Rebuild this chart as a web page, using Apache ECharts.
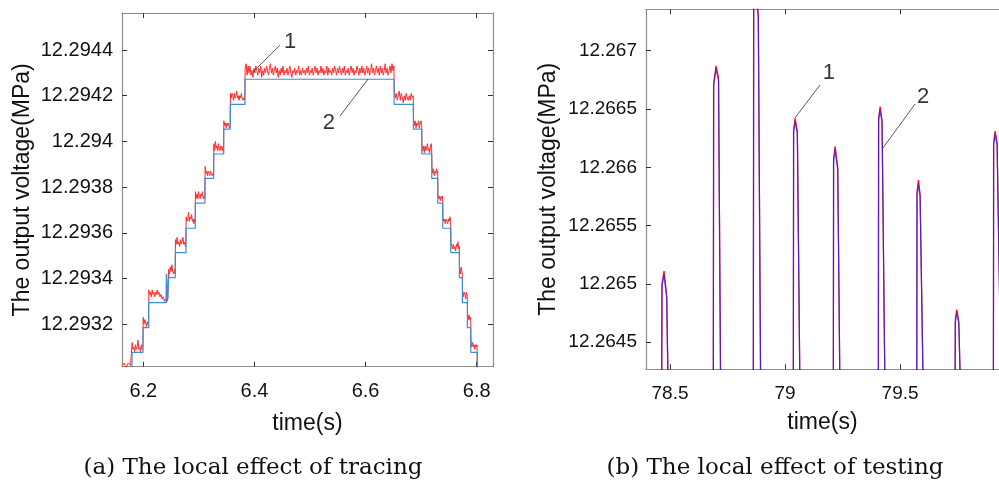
<!DOCTYPE html>
<html><head><meta charset="utf-8">
<script src="https://cdn.jsdelivr.net/npm/echarts@6/dist/echarts.min.js"></script>
<style>html,body{margin:0;padding:0;background:#fff}#c{width:999px;height:486px}</style>
</head><body><div id="c"></div>
<script>
// ---------- (a) tracing: reference staircase (curve 2) ----------
const traceStepTime = [6.1617, 6.1797, 6.1995, 6.2097, 6.2414, 6.2435, 6.2457, 6.2576, 6.2769, 6.2936, 6.3110, 6.3267, 6.3447, 6.3566, 6.3830,
  6.6513, 6.6860, 6.7011, 6.7191, 6.7299, 6.7389, 6.7533, 6.7688, 6.7742, 6.7832, 6.7893, 6.8010, 6.8293];
const traceStepLevel = [12.29295, 12.293077, 12.293185, 12.293294, 12.29342, 12.29330, 12.293404, 12.293513, 12.29362, 12.29373, 12.293838, 12.293945, 12.294054, 12.294162, 12.294272,
  12.294162, 12.294054, 12.293945, 12.293838, 12.29373, 12.29362, 12.293513, 12.293404, 12.293294, 12.293185, 12.293077, 12.29295, 12.29295];
// ---------- (a) tracing: measured output (curve 1), [time, value] ----------
const traceOutput = [
[6.1617,12.29302],[6.1650,12.29303],[6.1690,12.29301],[6.1730,12.29303],[6.1770,12.29302],[6.1795,12.29302],
[6.1800,12.29312],[6.1815,12.29309],[6.1830,12.29310],[6.1845,12.29308],[6.1860,12.29311],[6.1875,12.29309],[6.1890,12.29310],[6.1905,12.29313],[6.1920,12.29309],[6.1935,12.29310],[6.1950,12.29308],[6.1965,12.29311],[6.1980,12.29309],[6.1993,12.29310],
[6.1998,12.29323],[6.2012,12.29320],[6.2027,12.29322],[6.2042,12.29321],[6.2057,12.29319],[6.2072,12.29321],[6.2087,12.29320],[6.2095,12.29319],
[6.2100,12.29335],[6.2115,12.29333],[6.2130,12.29334],[6.2145,12.29332],[6.2160,12.29335],[6.2175,12.29333],[6.2190,12.29334],[6.2205,12.29332],[6.2220,12.29334],[6.2235,12.29333],[6.2250,12.29335],[6.2265,12.29333],[6.2280,12.29334],[6.2300,12.29332],[6.2320,12.29333],[6.2340,12.29331],[6.2360,12.29332],[6.2380,12.29330],[6.2400,12.29331],[6.2412,12.29330],
[6.2420,12.29342],[6.2440,12.29331],[6.2458,12.29344],
[6.2470,12.29342],[6.2485,12.29345],[6.2500,12.29343],[6.2515,12.29346],[6.2530,12.29343],[6.2545,12.29342],[6.2560,12.29344],[6.2574,12.29342],
[6.2579,12.29357],[6.2593,12.29355],[6.2608,12.29358],[6.2623,12.29355],[6.2638,12.29356],[6.2653,12.29354],[6.2668,12.29357],[6.2683,12.29355],[6.2698,12.29356],[6.2713,12.29358],[6.2728,12.29355],[6.2743,12.29356],[6.2758,12.29354],[6.2767,12.29355],
[6.2772,12.29367],[6.2786,12.29365],[6.2800,12.29366],[6.2814,12.29369],[6.2828,12.29365],[6.2842,12.29367],[6.2856,12.29366],[6.2870,12.29368],[6.2884,12.29365],[6.2898,12.29366],[6.2912,12.29364],[6.2926,12.29366],[6.2934,12.29365],
[6.2939,12.29378],[6.2953,12.29375],[6.2967,12.29377],[6.2981,12.29375],[6.2995,12.29378],[6.3009,12.29376],[6.3023,12.29375],[6.3037,12.29377],[6.3051,12.29376],[6.3065,12.29378],[6.3079,12.29375],[6.3093,12.29376],[6.3107,12.29375],
[6.3113,12.29389],[6.3127,12.29386],[6.3141,12.29387],[6.3155,12.29385],[6.3169,12.29387],[6.3183,12.29386],[6.3197,12.29385],[6.3211,12.29387],[6.3225,12.29386],[6.3239,12.29385],[6.3253,12.29386],[6.3265,12.29385],
[6.3270,12.29399],[6.3284,12.29396],[6.3298,12.29400],[6.3312,12.29397],[6.3326,12.29398],[6.3340,12.29396],[6.3354,12.29399],[6.3368,12.29397],[6.3382,12.29396],[6.3396,12.29398],[6.3410,12.29397],[6.3424,12.29396],[6.3438,12.29398],[6.3445,12.29396],
[6.3450,12.29409],[6.3464,12.29407],[6.3478,12.29408],[6.3492,12.29406],[6.3506,12.29408],[6.3520,12.29407],[6.3534,12.29408],[6.3548,12.29406],[6.3564,12.29407],
[6.3569,12.29421],[6.3583,12.29419],[6.3597,12.29421],[6.3611,12.29420],[6.3625,12.29418],[6.3639,12.29421],[6.3653,12.29419],[6.3667,12.29420],[6.3681,12.29422],[6.3695,12.29419],[6.3709,12.29420],[6.3723,12.29418],[6.3737,12.29420],[6.3751,12.29419],[6.3765,12.29421],[6.3779,12.29419],[6.3793,12.29418],[6.3807,12.29419],[6.3821,12.29418],[6.3828,12.29419],
[6.3833,12.29432],[6.3850,12.29434],[6.3868,12.29429],[6.3885,12.29433],[6.3903,12.29430],[6.3920,12.29433],[6.3938,12.29429],[6.3955,12.29431],[6.3973,12.29428],[6.3990,12.29432],
[6.4008,12.29430],[6.4025,12.29433],[6.4043,12.29431],[6.4060,12.29429],[6.4078,12.29432],[6.4095,12.29430],[6.4113,12.29433],[6.4130,12.29428],[6.4148,12.29431],[6.4165,12.29429],
[6.4183,12.29432],[6.4200,12.29430],[6.4218,12.29433],[6.4235,12.29431],[6.4253,12.29429],[6.4270,12.29432],[6.4288,12.29434],[6.4305,12.29430],[6.4323,12.29432],[6.4340,12.29429],
[6.4358,12.29431],[6.4375,12.29433],[6.4393,12.29430],[6.4410,12.29432],[6.4428,12.29428],[6.4445,12.29431],[6.4463,12.29429],[6.4480,12.29432],[6.4498,12.29430],[6.4515,12.29433],
[6.4533,12.29429],[6.4550,12.29431],[6.4568,12.29430],[6.4585,12.29432],[6.4603,12.29429],[6.4620,12.29431],[6.4638,12.29433],[6.4655,12.29430],[6.4673,12.29428],[6.4690,12.29431],
[6.4708,12.29430],[6.4725,12.29432],[6.4743,12.29429],[6.4760,12.29431],[6.4778,12.29430],[6.4795,12.29433],[6.4813,12.29429],[6.4830,12.29431],[6.4848,12.29429],[6.4865,12.29432],
[6.4883,12.29430],[6.4900,12.29431],[6.4918,12.29429],[6.4935,12.29432],[6.4953,12.29430],[6.4970,12.29433],[6.4988,12.29429],[6.5005,12.29431],[6.5023,12.29430],[6.5040,12.29432],
[6.5058,12.29429],[6.5075,12.29431],[6.5093,12.29433],[6.5110,12.29430],[6.5128,12.29432],[6.5145,12.29429],[6.5163,12.29431],[6.5180,12.29430],[6.5198,12.29433],[6.5215,12.29430],
[6.5233,12.29432],[6.5250,12.29429],[6.5268,12.29431],[6.5285,12.29430],[6.5303,12.29433],[6.5320,12.29429],[6.5338,12.29432],[6.5355,12.29430],[6.5373,12.29431],[6.5390,12.29429],
[6.5408,12.29432],[6.5425,12.29430],[6.5443,12.29433],[6.5460,12.29431],[6.5478,12.29429],[6.5495,12.29432],[6.5513,12.29430],[6.5530,12.29433],[6.5548,12.29431],[6.5565,12.29429],
[6.5583,12.29432],[6.5600,12.29430],[6.5618,12.29433],[6.5635,12.29429],[6.5653,12.29431],[6.5670,12.29430],[6.5688,12.29432],[6.5705,12.29429],[6.5723,12.29431],[6.5740,12.29433],
[6.5758,12.29430],[6.5775,12.29432],[6.5793,12.29429],[6.5810,12.29431],[6.5828,12.29430],[6.5845,12.29433],[6.5863,12.29431],[6.5880,12.29429],[6.5898,12.29432],[6.5915,12.29430],
[6.5933,12.29433],[6.5950,12.29430],[6.5968,12.29432],[6.5985,12.29429],[6.6003,12.29431],[6.6020,12.29433],[6.6038,12.29430],[6.6055,12.29432],[6.6073,12.29429],[6.6090,12.29431],
[6.6108,12.29434],[6.6125,12.29430],[6.6143,12.29432],[6.6160,12.29429],[6.6178,12.29431],[6.6195,12.29433],[6.6213,12.29430],[6.6230,12.29432],[6.6248,12.29429],[6.6265,12.29433],
[6.6283,12.29430],[6.6300,12.29432],[6.6318,12.29429],[6.6335,12.29431],[6.6353,12.29434],[6.6370,12.29430],[6.6388,12.29432],[6.6405,12.29429],[6.6423,12.29431],[6.6440,12.29433],
[6.6458,12.29430],[6.6475,12.29434],[6.6493,12.29431],[6.6510,12.29433],
[6.6516,12.29422],[6.6534,12.29419],[6.6552,12.29421],[6.6570,12.29418],[6.6588,12.29420],[6.6606,12.29422],[6.6624,12.29418],[6.6642,12.29421],[6.6660,12.29419],[6.6678,12.29417],[6.6696,12.29420],[6.6714,12.29418],[6.6732,12.29421],[6.6750,12.29419],[6.6768,12.29418],[6.6786,12.29420],[6.6804,12.29418],[6.6822,12.29421],[6.6840,12.29419],[6.6857,12.29420],
[6.6863,12.29410],[6.6878,12.29407],[6.6893,12.29409],[6.6908,12.29406],[6.6923,12.29408],[6.6938,12.29407],[6.6953,12.29409],[6.6968,12.29406],[6.6983,12.29408],[6.6998,12.29409],[6.7009,12.29407],
[6.7014,12.29399],[6.7028,12.29396],[6.7042,12.29398],[6.7056,12.29395],[6.7070,12.29398],[6.7084,12.29396],[6.7098,12.29397],[6.7112,12.29399],[6.7126,12.29396],[6.7140,12.29397],[6.7154,12.29395],[6.7168,12.29398],[6.7182,12.29399],[6.7189,12.29397],
[6.7194,12.29389],[6.7208,12.29386],[6.7222,12.29388],[6.7236,12.29385],[6.7250,12.29387],[6.7264,12.29386],[6.7278,12.29388],[6.7292,12.29386],[6.7297,12.29387],
[6.7302,12.29377],[6.7316,12.29375],[6.7330,12.29376],[6.7344,12.29374],[6.7358,12.29376],[6.7372,12.29375],[6.7386,12.29376],
[6.7392,12.29367],[6.7406,12.29365],[6.7420,12.29366],[6.7434,12.29364],[6.7448,12.29366],[6.7462,12.29365],[6.7476,12.29364],[6.7490,12.29366],[6.7504,12.29365],[6.7518,12.29367],[6.7531,12.29365],
[6.7536,12.29356],[6.7550,12.29354],[6.7564,12.29353],[6.7578,12.29355],[6.7592,12.29353],[6.7606,12.29354],[6.7620,12.29352],[6.7634,12.29355],[6.7648,12.29354],[6.7662,12.29356],[6.7676,12.29353],[6.7686,12.29354],
[6.7691,12.29344],[6.7705,12.29342],[6.7719,12.29345],[6.7733,12.29343],[6.7740,12.29342],
[6.7745,12.29335],[6.7759,12.29332],[6.7773,12.29334],[6.7787,12.29333],[6.7801,12.29331],[6.7815,12.29334],[6.7830,12.29332],
[6.7835,12.29325],[6.7849,12.29322],[6.7863,12.29324],[6.7877,12.29322],[6.7891,12.29323],
[6.7896,12.29313],[6.7910,12.29310],[6.7924,12.29312],[6.7938,12.29310],[6.7952,12.29311],[6.7966,12.29309],[6.7980,12.29311],[6.7994,12.29310],[6.8005,12.29311],
[6.8015,12.29295],[6.8293,12.29295]
];
const traceXTicks = [6.2, 6.4, 6.6, 6.8];
const traceYTicks = [12.2932, 12.2934, 12.2936, 12.2938, 12.294, 12.2942, 12.2944];
const traceYTickLabels = ['12.2932', '12.2934', '12.2936', '12.2938', '12.294', '12.2942', '12.2944'];

// ---------- (b) testing: pulses, [time, value] ----------
const testReference = [
[78.3957,12.2640],[78.4636,12.2640],[78.4650,12.26498],[78.4739,12.26508],[78.4857,12.26488],[78.4926,12.2640],
[78.6880,12.2640],[78.6895,12.26670],[78.7000,12.26684],[78.7109,12.26675],[78.7204,12.2640],
[78.8619,12.2640],[78.8635,12.26735],[78.8739,12.26750],[78.8839,12.26728],[78.8943,12.2640],
[79.0358,12.2640],[79.0370,12.26630],[79.0435,12.26639],[79.0535,12.26629],[79.0652,12.2640],
[79.2097,12.2640],[79.2108,12.26605],[79.2174,12.26615],[79.2291,12.26598],[79.2391,12.2640],
[79.4054,12.2640],[79.4065,12.26640],[79.4130,12.26649],[79.4217,12.26638],[79.4348,12.2640],
[79.5723,12.2640],[79.5734,12.26576],[79.5796,12.26585],[79.5870,12.26575],[79.6013,12.2640],
[79.7388,12.2640],[79.7399,12.26467],[79.7465,12.26475],[79.7552,12.26466],[79.7639,12.2640],
[79.9054,12.2640],[79.9065,12.26619],[79.9130,12.26628],[79.9217,12.26619],[79.9400,12.2640]
];
const testOutput = [
[78.3957,12.2640],[78.4640,12.2640],[78.4654,12.26500],[78.4741,12.26511],[78.4857,12.26490],[78.4927,12.2640],
[78.6884,12.2640],[78.6899,12.26672],[78.7002,12.26687],[78.7109,12.26677],[78.7205,12.2640],
[78.8623,12.2640],[78.8639,12.26737],[78.8741,12.26753],[78.8839,12.26730],[78.8944,12.2640],
[79.0362,12.2640],[79.0374,12.26632],[79.0437,12.26642],[79.0535,12.26631],[79.0653,12.2640],
[79.2101,12.2640],[79.2112,12.26607],[79.2176,12.26618],[79.2291,12.26600],[79.2392,12.2640],
[79.4058,12.2640],[79.4069,12.26642],[79.4132,12.26652],[79.4217,12.26640],[79.4349,12.2640],
[79.5727,12.2640],[79.5738,12.26579],[79.5798,12.26589],[79.5870,12.26577],[79.6014,12.2640],
[79.7392,12.2640],[79.7403,12.26470],[79.7467,12.26478],[79.7552,12.26468],[79.7640,12.2640],
[79.9058,12.2640],[79.9069,12.26621],[79.9132,12.26631],[79.9217,12.26621],[79.9401,12.2640]
];
const testXTicks = [78.5, 79, 79.5];
const testYTicks = [12.2645, 12.265, 12.2655, 12.266, 12.2665, 12.267];
const testYTickLabels = ['12.2645', '12.265', '12.2655', '12.266', '12.2665', '12.267'];

// ---------- annotations (data coordinates) ----------
const traceLeaders = [[[6.3975, 12.294304], [6.446, 12.294422]], [[6.6045, 12.294273], [6.554, 12.294111]]];
const traceLabels = [[6.464, 12.294435, '1'], [6.534, 12.29408, '2']];
const testLeaders = [[[79.043, 12.266423], [79.152, 12.266706]], [[79.426, 12.266166], [79.565, 12.266543]]];
const testLabels = [[79.191, 12.266809, '1'], [79.60, 12.266603, '2']];

const traceBlue = traceStepTime.map((t, i) => [t, traceStepLevel[i]]);

const SANS = '"Liberation Sans", Arial, Helvetica, sans-serif';
const AXIS_GRAY = '#8c8c8c';
function lookup(ticks, labels) {
  return v => { const i = ticks.findIndex(x => Math.abs(x - v) < 1e-9); return i >= 0 ? labels[i] : ''; };
}
function xAx(grid, min, max, ticks, pos, fontSize, withLabels, nameGap) {
  return {
    type: 'value', gridIndex: grid, min, max, position: pos,
    axisLine: {show: true, onZero: false, lineStyle: {color: AXIS_GRAY, width: 1.2}},
    axisTick: {show: true, inside: true, length: 5, customValues: ticks, lineStyle: {color: '#333', width: 1}},
    axisLabel: {show: withLabels, customValues: ticks, margin: 15, color: '#111', fontSize, fontFamily: SANS,
      formatter: v => String(v)},
    splitLine: {show: false},
    name: withLabels ? 'time(s)' : '', nameLocation: 'middle', nameGap,
    nameTextStyle: {fontSize: 23, color: '#111', fontFamily: SANS}
  };
}
function yAx(grid, min, max, ticks, labels, pos, fontSize, withLabels, nameGap) {
  return {
    type: 'value', gridIndex: grid, min, max, position: pos,
    axisLine: {show: true, onZero: false, lineStyle: {color: AXIS_GRAY, width: 1.2}},
    axisTick: {show: true, inside: true, length: 5, customValues: ticks, lineStyle: {color: '#333', width: 1}},
    axisLabel: {show: withLabels, customValues: ticks, margin: 9, color: '#111', fontSize, fontFamily: SANS,
      formatter: lookup(ticks, labels)},
    splitLine: {show: false},
    name: withLabels ? 'The output voltage(MPa)' : '', nameLocation: 'middle', nameGap, nameRotate: 90,
    nameTextStyle: {fontSize: 23, color: '#111', fontFamily: SANS}
  };
}
function leaderMarks(leaders) {
  return {
    silent: true, symbol: ['none', 'none'], animation: false,
    lineStyle: {color: '#444', width: 0.9, type: 'solid'},
    label: {show: false},
    data: leaders.map(p => [{coord: p[0]}, {coord: p[1]}])
  };
}
function labelSeries(xi, yi, labels) {
  return {
    type: 'scatter', xAxisIndex: xi, yAxisIndex: yi, data: labels, symbolSize: 1,
    itemStyle: {color: 'rgba(0,0,0,0)'}, silent: true, animation: false,
    label: {show: true, position: 'inside', formatter: p => p.value[2], color: '#000', fontSize: 22, fontFamily: SANS}
  };
}

const chart = echarts.init(document.getElementById('c'), null, {renderer: 'canvas'});
chart.setOption({
  backgroundColor: '#fff',
  animation: false,
  grid: [
    {left: 122, top: 13, width: 371, height: 353.7},
    {left: 646, top: 9.3, width: 353, height: 360}
  ],
  xAxis: [
    xAx(0, 6.1617, 6.8293, traceXTicks, 'bottom', 20, true, 45),
    xAx(0, 6.1617, 6.8293, traceXTicks, 'top', 20, false, 0),
    xAx(1, 78.3957, 79.93, testXTicks, 'bottom', 19, true, 42),
    xAx(1, 78.3957, 79.93, testXTicks, 'top', 19, false, 0)
  ],
  yAxis: [
    yAx(0, 12.293014, 12.294562, traceYTicks, traceYTickLabels, 'left', 20, true, 88),
    yAx(0, 12.293014, 12.294562, traceYTicks, traceYTickLabels, 'right', 20, false, 0),
    yAx(1, 12.264268, 12.267355, testYTicks, testYTickLabels, 'left', 19, true, 86)
  ],
  series: [
    {type: 'line', xAxisIndex: 0, yAxisIndex: 0, data: traceOutput, showSymbol: false, clip: true,
      lineStyle: {color: '#ff2a2a', width: 1}, z: 2},
    {type: 'line', xAxisIndex: 0, yAxisIndex: 0, data: traceBlue, step: 'end', showSymbol: false, clip: true,
      lineStyle: {color: '#3b8fd6', width: 1.2}, z: 3, markLine: leaderMarks(traceLeaders)},
    labelSeries(0, 0, traceLabels),
    {type: 'line', xAxisIndex: 2, yAxisIndex: 2, data: testOutput, showSymbol: false, clip: true,
      lineStyle: {color: '#ff0000', width: 1.2}, z: 2},
    {type: 'line', xAxisIndex: 2, yAxisIndex: 2, data: testReference, showSymbol: false, clip: true,
      lineStyle: {color: '#2020ff', width: 1.3, opacity: 0.72}, z: 3, markLine: leaderMarks(testLeaders)},
    labelSeries(2, 2, testLabels)
  ],
  graphic: [
    {type: 'text', x: 253, y: 468, style: {text: '(a) The local effect of tracing', font: '23px "DejaVu Serif", serif',
      fill: '#111', textAlign: 'center', textVerticalAlign: 'middle', verticalAlign: 'middle'}},
    {type: 'text', x: 775, y: 468, style: {text: '(b) The local effect of testing', font: '23px "DejaVu Serif", serif',
      fill: '#111', textAlign: 'center', textVerticalAlign: 'middle', verticalAlign: 'middle'}}
  ]
});
</script></body></html>
